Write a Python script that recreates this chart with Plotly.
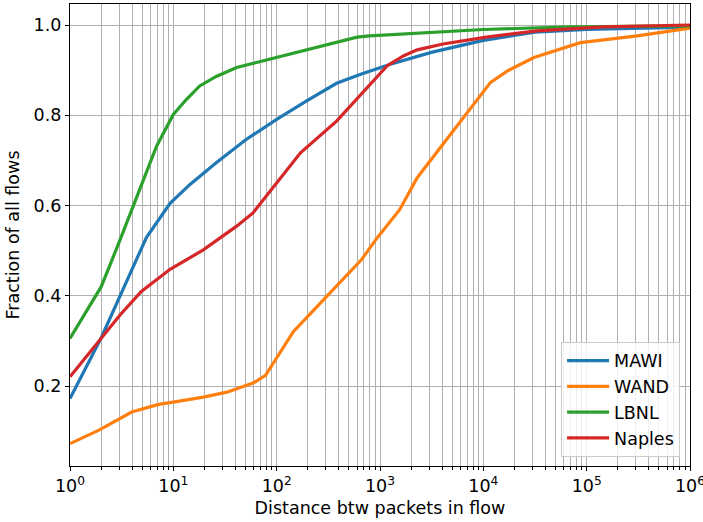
import plotly.graph_objects as go

mawi_x = [1, 2, 5.5, 9.3, 14.5, 26, 51, 100, 195, 380, 650, 1260, 3200, 10000, 31600, 100000, 1000000]
mawi_y = [0.173, 0.307, 0.53, 0.605, 0.647, 0.695, 0.747, 0.791, 0.832, 0.871, 0.891, 0.913, 0.94, 0.966, 0.984, 0.99, 0.995]

wand_x = [1, 1.95, 3.95, 7.2, 10, 19.5, 33, 59, 78, 145, 302, 660, 933, 1550, 2290, 5130, 11750, 17000, 30900, 87000, 309000, 1000000]
wand_y = [0.073, 0.104, 0.143, 0.16, 0.165, 0.176, 0.187, 0.207, 0.224, 0.321, 0.398, 0.48, 0.528, 0.591, 0.662, 0.765, 0.873, 0.898, 0.928, 0.961, 0.976, 0.993]

lbnl_x = [1, 2, 3.05, 6.9, 10, 13.5, 18, 26, 41, 100, 209, 380, 600, 794, 3000, 10000, 69000, 1000000]
lbnl_y = [0.306, 0.42, 0.524, 0.732, 0.802, 0.836, 0.865, 0.886, 0.906, 0.928, 0.947, 0.962, 0.973, 0.976, 0.983, 0.99, 0.996, 0.998]

naples_x = [1, 1.95, 3.05, 4.9, 9.3, 19.5, 40.7, 59, 79, 170, 380, 550, 1175, 1700, 2290, 4070, 10700, 33000, 145000, 1000000]
naples_y = [0.221, 0.302, 0.358, 0.41, 0.459, 0.502, 0.554, 0.584, 0.621, 0.717, 0.787, 0.828, 0.91, 0.932, 0.945, 0.958, 0.973, 0.987, 0.996, 1.0]

x_tickvals = [1, 10, 100, 1000, 10000, 100000, 1000000]
x_ticktext = ["10<sup>0</sup>", "10<sup>1</sup>", "10<sup>2</sup>", "10<sup>3</sup>",
              "10<sup>4</sup>", "10<sup>5</sup>", "10<sup>6</sup>"]
y_tickvals = [0.2, 0.4, 0.6, 0.8, 1.0]

series = [
    ("MAWI", mawi_x, mawi_y, "#1f77b4"),
    ("WAND", wand_x, wand_y, "#ff7f0e"),
    ("LBNL", lbnl_x, lbnl_y, "#2ca02c"),
    ("Naples", naples_x, naples_y, "#d62728"),
]

fig = go.Figure()
for name, xs, ys, col in series:
    fig.add_trace(go.Scatter(x=xs, y=ys, mode="lines", name=name,
                             line=dict(color=col, width=3.2)))

FS = 17.5
font = dict(family="DejaVu Sans", size=FS, color="black")
grid = "#b0b0b0"

fig.update_layout(
    width=703, height=522,
    margin=dict(l=70, r=13, t=4, b=56),
    paper_bgcolor="white", plot_bgcolor="white",
    font=font,
    showlegend=True,
    legend=dict(x=0.984, y=0.02, xanchor="right", yanchor="bottom",
                bgcolor="rgba(255,255,255,0.8)", bordercolor="#cccccc", borderwidth=1,
                itemwidth=42,
                font=dict(family="DejaVu Sans", size=FS, color="black")),
)
fig.update_xaxes(
    type="log", range=[0, 6], automargin=False,
    tickvals=x_tickvals, ticktext=x_ticktext, ticklabeloverflow="allow",
    ticks="outside", ticklen=4, tickwidth=1, tickcolor="black",
    tickfont=dict(family="DejaVu Sans", size=FS, color="black"),
    showline=True, linecolor="black", linewidth=1.2, mirror=True,
    showgrid=True, gridcolor=grid, gridwidth=1,
    minor=dict(dtick="D1", showgrid=True, gridcolor=grid, gridwidth=1,
               ticks="outside", ticklen=2.5, tickcolor="black"),
    title=dict(text="Distance btw packets in flow", standoff=6, font=font),
    zeroline=False,
)
fig.update_yaxes(
    range=[0.0235, 1.0465], automargin=False,
    tickvals=y_tickvals, tickformat=".1f",
    ticks="outside", ticklen=4, tickwidth=1, tickcolor="black",
    tickfont=dict(family="DejaVu Sans", size=FS, color="black"),
    showline=True, linecolor="black", linewidth=1.2, mirror=True,
    showgrid=True, gridcolor=grid, gridwidth=1,
    title=dict(text="Fraction of all flows", standoff=9, font=font),
    zeroline=False,
)

fig.write_html("out.html", config={"displayModeBar": False},
               post_script="document.body.style.margin='0';")
